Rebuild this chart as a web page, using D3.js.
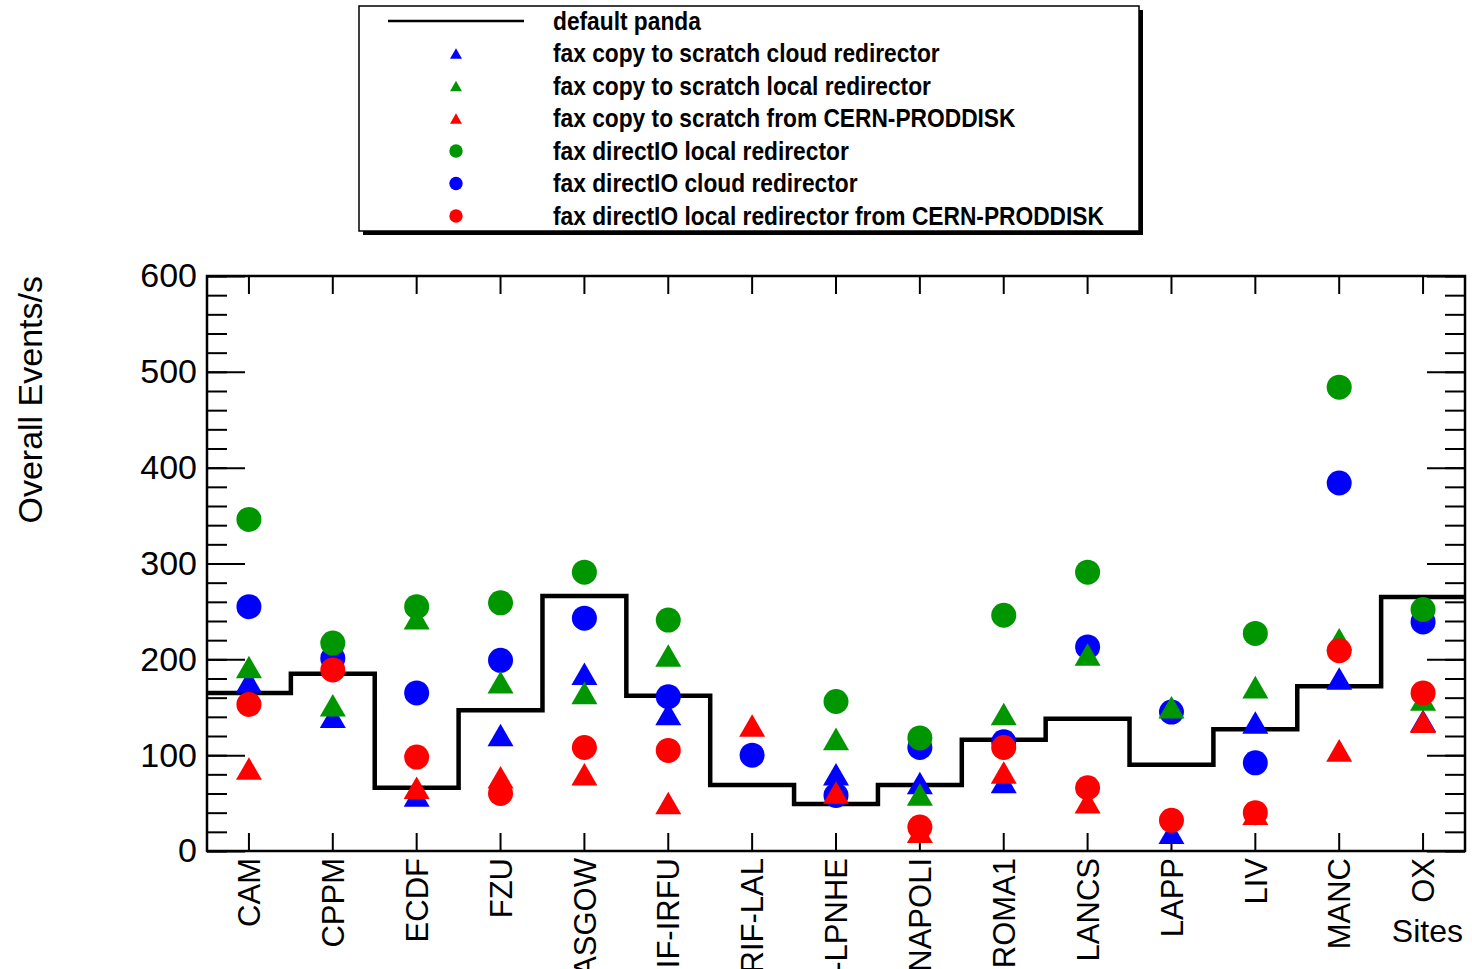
<!DOCTYPE html>
<html>
<head>
<meta charset="utf-8">
<script src="https://cdn.jsdelivr.net/npm/d3@7"></script>
<style>
	body { margin: 0; background: #fff; }
	svg { display: block; font-family: "Liberation Sans", Arial, sans-serif; }
</style>
</head>
<body>
<svg id="chart" width="1472" height="969"></svg>
<script>
// sites on the x axis
const sites = ['CAM', 'CPPM', 'ECDF', 'FZU', 'GLASGOW', 'GRIF-IRFU', 'GRIF-LAL', 'GRIF-LPNHE',
	'INFN-NAPOLI', 'INFN-ROMA1', 'LANCS', 'LAPP', 'LIV', 'MANC', 'OX'];

// overall events/s per site
const defaultPanda     = [165, 185, 66, 147, 266, 162, 69, 49, 69, 116, 138, 90, 127, 172, 265];
const copyCloudRedir   = [177, 140, 58, 121, 185, 143, null, 80, 71, 72, null, 19, 134, 180, 136];
const copyLocalRedir   = [192, 152, 243, 176, 165, 204, null, 117, 59, 143, 205, 150, 171, 221, 158];
const copyCernProddisk = [86, null, 66, 77, 80, 50, 131, 61, 20, 82, 51, null, 39, 105, 135];
const directLocalRedir = [346, 217, 255, 259, 291, 241, null, 156, 118, 246, 291, null, 227, 484, 252];
const directCloudRedir = [255, 201, 165, 199, 243, 161, 100, 58, 108, 114, 213, 145, 92, 384, 239];
const directLocalCern  = [153, 189, 98, 60, 108, 105, null, null, 25, 108, 66, 32, 40, 209, 165];

const yTicks = [0, 100, 200, 300, 400, 500, 600];
const yMinorTicks = d3.range(0, 601, 20);

const legendLabels = [
	'default panda',
	'fax copy to scratch cloud redirector',
	'fax copy to scratch local redirector',
	'fax copy to scratch from CERN-PRODDISK',
	'fax directIO local redirector',
	'fax directIO cloud redirector',
	'fax directIO local redirector from CERN-PRODDISK'
];

const BLUE = '#0000ff', GREEN = '#009600', RED = '#ff0000';

// draw order: later ones on top
const markerSeries = [
	{ values: directCloudRedir, shape: 'circle', colour: BLUE },
	{ values: copyCloudRedir, shape: 'triangle', colour: BLUE },
	{ values: copyLocalRedir, shape: 'triangle', colour: GREEN },
	{ values: copyCernProddisk, shape: 'triangle', colour: RED },
	{ values: directLocalRedir, shape: 'circle', colour: GREEN },
	{ values: directLocalCern, shape: 'circle', colour: RED }
];

const legendItems = [
	{ shape: 'line' },
	{ shape: 'triangle', colour: BLUE },
	{ shape: 'triangle', colour: GREEN },
	{ shape: 'triangle', colour: RED },
	{ shape: 'circle', colour: GREEN },
	{ shape: 'circle', colour: BLUE },
	{ shape: 'circle', colour: RED }
];

const svg = d3.select('#chart');
const plotLeft = 207, plotRight = 1465, plotTop = 276, plotBottom = 851;

const x = d3.scaleBand().domain(sites).range([plotLeft, plotRight]).padding(0);
const y = d3.scaleLinear().domain([0, 600]).range([plotBottom, plotTop]);

function symbolPath(shape, size) {
	const type = shape === 'circle' ? d3.symbolCircle : d3.symbolTriangle;
	return d3.symbol().type(type).size(size)();
}
// d3 triangles are centred on the centroid, shift so the box is centred
function triShift(size) {
	const s = Math.sqrt(size / (Math.sqrt(3) / 4));
	return s * Math.sqrt(3) / 2 / 6;
}

const BIG_CIRCLE = Math.PI * 12.5 * 12.5;
const BIG_TRI = Math.sqrt(3) / 4 * 26 * 26;

// ---- axes ----
const tickStyle = g => {
	g.select('.domain').remove();
	g.selectAll('line').attr('stroke', '#000').attr('stroke-width', 2);
};

svg.append('g').attr('transform', `translate(${plotLeft},0)`)
	.call(d3.axisRight(y).tickValues(yMinorTicks).tickSize(20).tickFormat(''))
	.call(tickStyle);
svg.append('g').attr('transform', `translate(${plotLeft},0)`)
	.call(d3.axisRight(y).tickValues(yTicks).tickSize(38).tickFormat(''))
	.call(tickStyle);
svg.append('g').attr('transform', `translate(${plotRight},0)`)
	.call(d3.axisLeft(y).tickValues(yMinorTicks).tickSize(20).tickFormat(''))
	.call(tickStyle);
svg.append('g').attr('transform', `translate(${plotRight},0)`)
	.call(d3.axisLeft(y).tickValues(yTicks).tickSize(38).tickFormat(''))
	.call(tickStyle);

svg.append('g').attr('transform', `translate(0,${plotBottom})`)
	.call(d3.axisTop(x).tickSize(18).tickFormat(''))
	.call(tickStyle);
svg.append('g').attr('transform', `translate(0,${plotTop})`)
	.call(d3.axisBottom(x).tickSize(18).tickFormat(''))
	.call(tickStyle);

// y labels
svg.append('g').attr('transform', `translate(${plotLeft},0)`)
	.call(d3.axisLeft(y).tickValues(yTicks).tickSize(0).tickPadding(10))
	.call(g => g.select('.domain').remove())
	.selectAll('text')
	.attr('font-family', '"Liberation Sans", Arial, sans-serif')
	.attr('font-size', 34)
	.attr('fill', '#000');

// x labels, rotated (long names run off the bottom like the original)
svg.append('g').attr('transform', `translate(0,${plotBottom})`)
	.call(d3.axisBottom(x).tickSize(0))
	.call(g => g.select('.domain').remove())
	.selectAll('text')
	.attr('font-family', '"Liberation Sans", Arial, sans-serif')
	.attr('font-size', 31)
	.attr('fill', '#000')
	.attr('x', -7)
	.attr('y', 0)
	.attr('dy', '0.36em')
	.attr('transform', 'rotate(-90)')
	.style('text-anchor', 'end');

svg.append('text')
	.attr('transform', `translate(42,${plotTop}) rotate(-90)`)
	.attr('text-anchor', 'end')
	.attr('font-size', 34)
	.text('Overall Events/s');

svg.append('text')
	.attr('x', 1463)
	.attr('y', 942)
	.attr('text-anchor', 'end')
	.attr('font-size', 32)
	.text('Sites');

// ---- default panda step line ----
const stepPoints = sites.reduce((arr, s, i) => [
	...arr,
	[x(s), defaultPanda[i]],
	[x(s) + x.bandwidth(), defaultPanda[i]]
], []);

svg.append('path')
	.datum(stepPoints)
	.attr('fill', 'none')
	.attr('stroke', '#000')
	.attr('stroke-width', 4.5)
	.attr('d', d3.line().x(d => d[0]).y(d => y(d[1])));

// ---- markers ----
markerSeries.forEach(series => {
	const size = series.shape === 'circle' ? BIG_CIRCLE : BIG_TRI;
	const shift = series.shape === 'circle' ? 0 : triShift(size);
	svg.append('g')
		.selectAll('path')
		.data(sites.map((s, i) => ({ site: s, v: series.values[i] })).filter(d => d.v != null))
		.enter()
		.append('path')
		.attr('d', symbolPath(series.shape, size))
		.attr('transform', d => `translate(${x(d.site) + x.bandwidth() / 2},${y(d.v) + shift})`)
		.attr('fill', series.colour);
});

// frame
svg.append('rect')
	.attr('x', plotLeft).attr('y', plotTop)
	.attr('width', plotRight - plotLeft).attr('height', plotBottom - plotTop)
	.attr('fill', 'none').attr('stroke', '#000').attr('stroke-width', 2.5);

// ---- legend ----
const lg = svg.append('g');
lg.append('rect')
	.attr('x', 363).attr('y', 10).attr('width', 780).attr('height', 225)
	.attr('fill', '#000');
lg.append('rect')
	.attr('x', 359).attr('y', 6).attr('width', 780).attr('height', 225)
	.attr('fill', '#fff').attr('stroke', '#000').attr('stroke-width', 1.5);

const rowY = d3.scalePoint().domain(d3.range(legendItems.length)).range([21, 216]);

legendItems.forEach((item, i) => {
	const cy = rowY(i);
	if (item.shape === 'line') {
		lg.append('line')
			.attr('x1', 388).attr('x2', 524).attr('y1', cy).attr('y2', cy)
			.attr('stroke', '#000').attr('stroke-width', 2.5);
	} else {
		const size = item.shape === 'circle' ? 140 : 62;
		const shift = item.shape === 'circle' ? 0 : triShift(size);
		lg.append('path')
			.attr('d', symbolPath(item.shape, size))
			.attr('transform', `translate(456,${cy + shift})`)
			.attr('fill', item.colour);
	}
	// narrow bold face, squeezed horizontally
	lg.append('text')
		.attr('transform', `translate(553,${cy}) scale(0.91,1)`)
		.attr('dy', '0.35em')
		.attr('font-weight', 'bold')
		.attr('font-size', 25)
		.text(legendLabels[i]);
});
</script>
</body>
</html>
